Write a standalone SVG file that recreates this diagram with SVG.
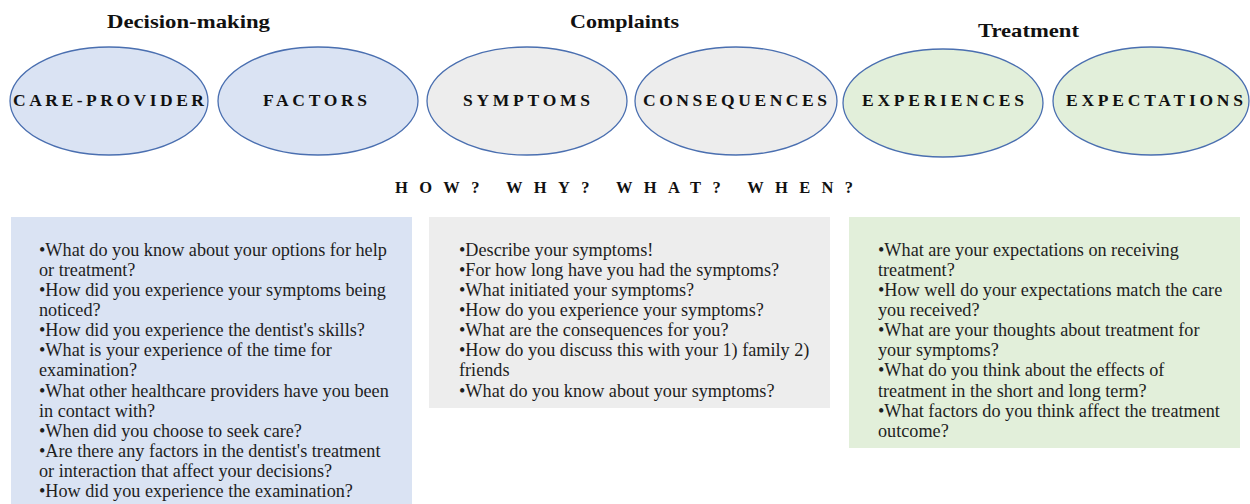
<svg xmlns="http://www.w3.org/2000/svg" width="1250" height="504" viewBox="0 0 1250 504">
<style>
.title{font-family:"Liberation Serif",serif;font-weight:bold;font-size:19px;fill:#111}
.lbl{font-family:"Liberation Serif",serif;font-weight:bold;font-size:17.5px;fill:#111}
.hdr{font-family:"Liberation Serif",serif;font-weight:bold;font-size:16.5px;fill:#111}
.body{font-family:"Liberation Serif",serif;font-size:18.2px;fill:#1e1e1e}
.e{stroke:#4a6fb0;stroke-width:1.3}
</style>
<rect width="1250" height="504" fill="#fff"/>
<text class="title" x="107" y="28" textLength="163" lengthAdjust="spacingAndGlyphs">Decision-making</text>
<text class="title" x="570" y="28" textLength="109" lengthAdjust="spacingAndGlyphs">Complaints</text>
<text class="title" x="978" y="37" textLength="101" lengthAdjust="spacingAndGlyphs">Treatment</text>
<g id="care-provider"><ellipse class="e" cx="109" cy="101" rx="99" ry="54" fill="#dae3f3"/><text class="lbl" x="13" y="106" textLength="191" lengthAdjust="spacing">CARE-PROVIDER</text></g>
<g id="factors"><ellipse class="e" cx="318" cy="101" rx="100" ry="54" fill="#dae3f3"/><text class="lbl" x="263" y="106" textLength="104" lengthAdjust="spacing">FACTORS</text></g>
<g id="symptoms"><ellipse class="e" cx="527" cy="101" rx="100" ry="54" fill="#ededed"/><text class="lbl" x="463" y="106" textLength="127" lengthAdjust="spacing">SYMPTOMS</text></g>
<g id="consequences"><ellipse class="e" cx="736" cy="101" rx="101" ry="54" fill="#ededed"/><text class="lbl" x="643" y="106" textLength="184" lengthAdjust="spacing">CONSEQUENCES</text></g>
<g id="experiences"><ellipse class="e" cx="943" cy="103" rx="100" ry="54" fill="#e2efda"/><text class="lbl" x="862" y="106" textLength="162" lengthAdjust="spacing">EXPERIENCES</text></g>
<g id="expectations"><ellipse class="e" cx="1151" cy="101" rx="98" ry="54" fill="#e2efda"/><text class="lbl" x="1066" y="106" textLength="177" lengthAdjust="spacing">EXPECTATIONS</text></g>
<text class="hdr" x="395" y="193" textLength="458" lengthAdjust="spacing">HOW? WHY? WHAT? WHEN?</text>
<g id="decision-box">
<rect x="11" y="217" width="401" height="287" fill="#dae3f3"/>
<text class="body" x="39">
<tspan x="39" y="256">•What do you know about your options for help</tspan>
<tspan x="39" y="276">or treatment?</tspan>
<tspan x="39" y="296">•How did you experience your symptoms being</tspan>
<tspan x="39" y="316">noticed?</tspan>
<tspan x="39" y="336">•How did you experience the dentist's skills?</tspan>
<tspan x="39" y="356">•What is your experience of the time for</tspan>
<tspan x="39" y="376">examination?</tspan>
<tspan x="39" y="397">•What other healthcare providers have you been</tspan>
<tspan x="39" y="417">in contact with?</tspan>
<tspan x="39" y="437">•When did you choose to seek care?</tspan>
<tspan x="39" y="457">•Are there any factors in the dentist's treatment</tspan>
<tspan x="39" y="477">or interaction that affect your decisions?</tspan>
<tspan x="39" y="497">•How did you experience the examination?</tspan>
</text>
</g>
<g id="complaints-box">
<rect x="429" y="217" width="401" height="191" fill="#ededed"/>
<text class="body">
<tspan x="459" y="256">•Describe your symptoms!</tspan>
<tspan x="459" y="276">•For how long have you had the symptoms?</tspan>
<tspan x="459" y="296">•What initiated your symptoms?</tspan>
<tspan x="459" y="316">•How do you experience your symptoms?</tspan>
<tspan x="459" y="336">•What are the consequences for you?</tspan>
<tspan x="459" y="356">•How do you discuss this with your 1) family 2)</tspan>
<tspan x="459" y="376">friends</tspan>
<tspan x="459" y="397">•What do you know about your symptoms?</tspan>
</text>
</g>
<g id="treatment-box">
<rect x="849" y="217" width="391" height="231" fill="#e2efda"/>
<text class="body">
<tspan x="878" y="256">•What are your expectations on receiving</tspan>
<tspan x="878" y="276">treatment?</tspan>
<tspan x="878" y="296">•How well do your expectations match the care</tspan>
<tspan x="878" y="316">you received?</tspan>
<tspan x="878" y="336">•What are your thoughts about treatment for</tspan>
<tspan x="878" y="356">your symptoms?</tspan>
<tspan x="878" y="376">•What do you think about the effects of</tspan>
<tspan x="878" y="397">treatment in the short and long term?</tspan>
<tspan x="878" y="417">•What factors do you think affect the treatment</tspan>
<tspan x="878" y="437">outcome?</tspan>
</text>
</g>
<g id="connectors"/>
</svg>
